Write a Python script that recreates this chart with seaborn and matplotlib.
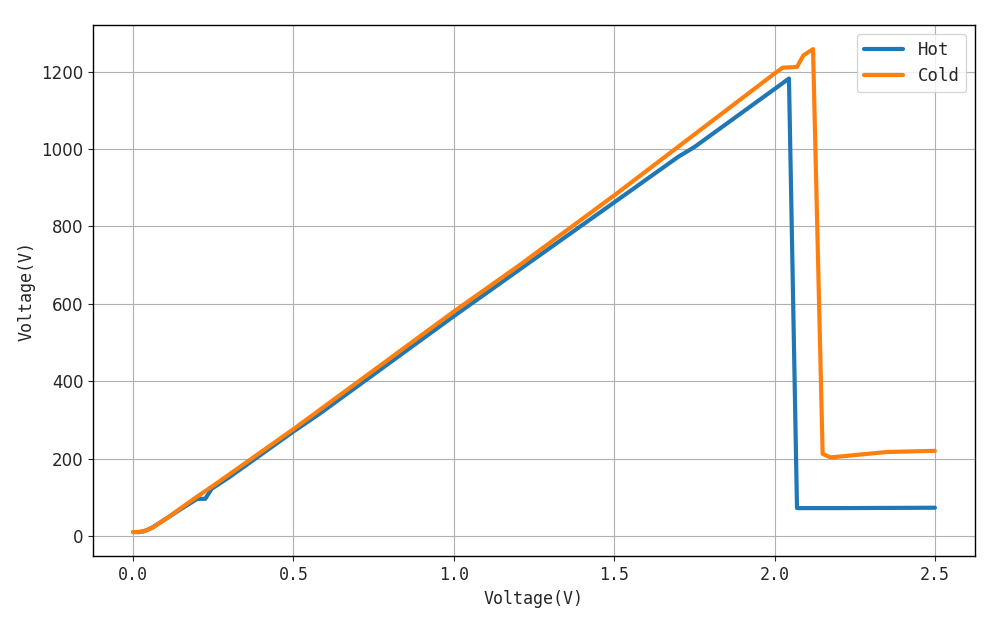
import numpy as np
import pandas as pd
import matplotlib
matplotlib.use("Agg")
import matplotlib.pyplot as plt
import seaborn as sns

hot_x = [0.0, 0.02, 0.04, 0.06, 0.10, 0.15, 0.20, 0.225, 0.245, 0.30, 0.50, 0.58, 1.00, 1.50, 1.70, 1.75, 2.00, 2.045, 2.07, 2.20, 2.50]
hot_y = [10, 10, 14, 22, 43, 70, 96, 96, 122, 152, 270, 315, 568, 862, 980, 1005, 1155, 1182, 72, 72, 73]

cold_x = [0.0, 0.03, 0.06, 0.10, 0.20, 0.25, 0.50, 1.00, 1.20, 1.50, 2.00, 2.025, 2.07, 2.09, 2.12, 2.15, 2.175, 2.20, 2.35, 2.50]
cold_y = [10, 11, 21, 43, 102, 130, 276, 580, 697, 880, 1195, 1210, 1212, 1242, 1258, 212, 203, 205, 217, 220]

df = pd.concat([
    pd.DataFrame({"x": hot_x, "y": hot_y, "series": "Hot"}),
    pd.DataFrame({"x": cold_x, "y": cold_y, "series": "Cold"}),
], ignore_index=True)

sns.set_style("ticks")
plt.rcParams['font.family'] = ['DejaVu Sans Mono', 'DejaVu Sans']

fig = plt.figure(figsize=(10, 6.25), dpi=100)
ax = fig.add_axes([0.093, 0.11, 0.882, 0.85])
sns.lineplot(data=df, x="x", y="y", hue="series", sort=False, estimator=None,
             palette=["#1f77b4", "#ff7f0e"], linewidth=3, ax=ax)
ax.grid(True, color="#b0b0b0", linewidth=0.8)
ax.set_axisbelow(True)
ax.set_xlabel("Voltage(V)", fontsize=12)
ax.set_ylabel("Voltage(V)", fontsize=12)
ax.set_xticks([0.0, 0.5, 1.0, 1.5, 2.0, 2.5])
ax.set_xticklabels(["0.0", "0.5", "1.0", "1.5", "2.0", "2.5"])
ax.tick_params(labelsize=12)
for lab in ax.get_yticklabels():
    lab.set_family("DejaVu Sans")
for s in ax.spines.values():
    s.set_color("black")
    s.set_linewidth(1)
leg = ax.legend(loc="upper right", fontsize=12.5, frameon=True, handlelength=2.3)
leg.get_frame().set_edgecolor("#cccccc")
fig.savefig("out.png", dpi=100)
